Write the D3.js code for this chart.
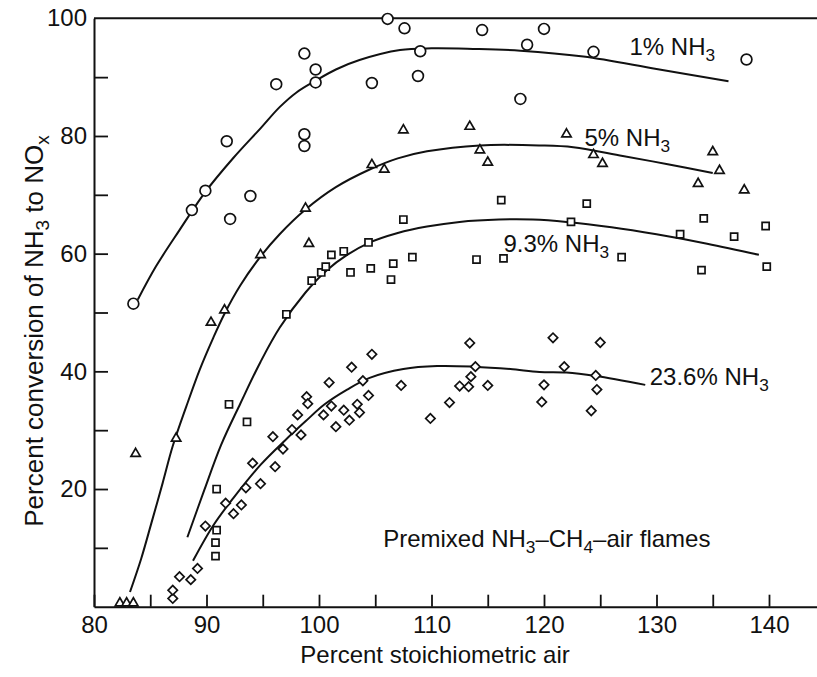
<!DOCTYPE html>
<html>
<head>
<meta charset="utf-8">
<script src="https://cdn.jsdelivr.net/npm/d3@7/dist/d3.min.js"></script>
<style>
  html, body { margin: 0; padding: 0; background: #fff; }
  svg { display: block; }
  text { font-family: "Liberation Sans", Arial, Helvetica, sans-serif; fill: #111; }
</style>
</head>
<body>
<svg id="chart" width="817" height="677"></svg>
<script>
// ---------- DATA ----------
const xMajorTicks = [80, 90, 100, 110, 120, 130, 140];
const xMinorTicks = [85, 95, 105, 115, 125, 135];
const yMajorTicks = [20, 40, 60, 80, 100];
const yMinorTicks = [10, 30, 50, 70, 90];

// 1% NH3 (circles)
const circlePts = [
  [83.5,51.5],[88.7,67.4],[89.9,70.7],[91.8,79.1],[92.1,65.9],[93.9,69.8],[96.2,88.8],
  [98.7,94.0],[98.7,80.3],[98.7,78.3],[99.7,91.3],[99.7,89.1],[104.7,89.0],[106.1,99.9],
  [107.6,98.3],[108.8,90.2],[109.0,94.4],[114.5,98.0],[117.9,86.3],[118.5,95.5],
  [120.0,98.2],[124.4,94.3],[138.0,93.0]
];
// 5% NH3 (triangles)
const trianglePts = [
  [82.3,0.6],[82.9,0.6],[83.5,0.6],[83.7,26.0],[87.3,28.6],[90.4,48.3],[91.6,50.4],
  [94.8,59.8],[98.8,67.7],[99.1,61.7],[104.7,75.1],[105.8,74.3],[107.5,81.0],[113.4,81.6],
  [114.3,77.6],[115.0,75.5],[122.0,80.3],[124.4,76.8],[125.2,75.3],[133.7,71.9],
  [135.0,77.3],[135.6,74.1],[137.8,70.8]
];
// 9.3% NH3 (squares)
const squarePts = [
  [90.8,8.6],[90.8,10.9],[90.9,13.0],[90.9,20.0],[92.0,34.4],[93.6,31.4],[97.1,49.7],
  [99.35,55.4],[100.2,56.8],[100.6,57.8],[101.1,59.8],[102.2,60.4],[102.8,56.8],
  [104.4,61.9],[104.6,57.5],[106.4,55.6],[106.6,58.3],[107.5,65.8],[108.3,59.4],
  [114.0,59.0],[116.4,59.2],[116.2,69.1],[122.4,65.4],[123.8,68.5],[126.9,59.4],
  [132.1,63.3],[134.0,57.2],[134.2,66.0],[136.9,62.9],[139.7,64.7],[139.8,57.8]
];
// 23.6% NH3 (diamonds)
const diamondPts = [
  [87.0,1.4],[87.0,2.8],[87.6,5.1],[88.6,4.6],[89.2,6.5],[89.9,13.7],[91.7,17.6],
  [92.4,15.8],[93.1,17.3],[93.5,20.2],[94.1,24.4],[94.8,20.9],[95.9,28.9],[96.1,23.8],
  [96.8,26.8],[97.6,30.1],[98.1,32.6],[98.4,29.2],[98.9,35.7],[99.0,34.5],[100.4,32.6],
  [100.9,38.1],[101.1,34.1],[101.5,30.6],[102.2,33.4],[102.7,31.7],[102.9,40.7],
  [103.4,34.4],[103.6,33.0],[103.9,38.4],[104.4,35.9],[104.7,42.9],[107.3,37.6],
  [109.9,32.0],[111.6,34.7],[112.5,37.5],[113.3,37.4],[113.5,39.1],[113.9,40.8],
  [113.4,44.8],[115.0,37.6],[119.8,34.8],[120.0,37.7],[120.8,45.7],[121.8,40.8],
  [124.2,33.3],[124.6,39.3],[124.7,36.9],[125.0,44.9]
];

// smooth fitted curves
const curve1 = [
  [83.9,52.2],[85.5,57.8],[87.6,64.0],[89.9,70.5],[92.4,76.3],[94.8,81.3],[96.5,84.9],
  [98.0,87.4],[99.7,89.4],[101.5,91.3],[103.6,92.9],[107.2,94.6],[110.0,94.9],
  [113.7,94.8],[117.9,94.5],[123.5,93.5],[130.0,91.4],[136.4,89.3]
];
const curve2 = [
  [83.2,2.5],[84.2,8.2],[85.1,14.2],[86.1,21.0],[87.0,27.3],[88.2,34.0],[89.4,40.3],
  [90.6,45.7],[91.6,49.8],[93.0,54.6],[94.8,59.5],[96.5,63.3],[98.8,67.5],[101.5,71.3],
  [104.5,74.3],[107.0,76.2],[109.6,77.4],[114.3,78.4],[119.6,78.4],[122.6,78.1],
  [127.0,76.6],[131.0,75.2],[135.0,73.7]
];
const curve3 = [
  [88.3,11.8],[89.8,19.8],[91.3,27.5],[93.0,34.5],[94.8,41.6],[96.5,47.4],[98.8,53.4],
  [100.7,57.2],[102.5,59.8],[104.4,61.8],[107.0,63.5],[109.6,64.6],[112.5,65.4],
  [116.0,65.8],[119.0,65.8],[122.0,65.4],[126.0,64.5],[130.0,63.3],[134.5,61.7],[139.1,59.8]
];
const curve4 = [
  [88.8,7.8],[90.6,13.8],[92.4,18.5],[94.8,24.1],[97.0,28.3],[98.8,31.5],[100.5,34.4],
  [102.5,36.9],[104.5,38.9],[107.5,40.4],[110.5,40.9],[113.7,40.8],[117.0,40.4],
  [119.6,39.9],[122.0,39.8],[124.6,39.2],[129.0,37.7]
];

// ---------- CHART ----------
(function () {
const svg = d3.select("#chart");
const W = 817, H = 677;
const pL = 94, pR = 817, pT = 18.3, pB = 606.7;
const x = d3.scaleLinear().domain([80, 80 + (pR - pL) / 11.25]).range([pL, pR]);
const y = d3.scaleLinear().domain([0, 100]).range([pB, pT]);

svg.append("rect").attr("width", W).attr("height", H).attr("fill", "#fff");

const FS = 24;

// Axes
const xAxis = d3.axisBottom(x).tickValues(xMajorTicks.concat(xMinorTicks))
  .tickSizeInner(-12).tickSizeOuter(0).tickPadding(9).tickFormat(d3.format("d"));
const gx = svg.append("g").attr("transform", `translate(0,${pB})`).call(xAxis);
gx.selectAll(".tick").filter(d => !xMajorTicks.includes(d)).select("text").remove();

const yAxis = d3.axisLeft(y).tickValues(yMajorTicks.concat(yMinorTicks))
  .tickSizeInner(-14).tickSizeOuter(0).tickPadding(7).tickFormat(d3.format("d"));
const gy = svg.append("g").attr("transform", `translate(${pL},0)`).call(yAxis);
gy.selectAll(".tick").filter(d => !yMajorTicks.includes(d)).select("text").remove();

[gx, gy].forEach(g => {
  g.select(".domain").attr("stroke", "#111").attr("stroke-width", 2);
  g.selectAll(".tick line").attr("stroke", "#111").attr("stroke-width", 1.8);
  g.selectAll(".tick text").attr("font-size", FS).attr("fill", "#111")
    .style("font-family", '"Liberation Sans", Arial, sans-serif');
});
gy.selectAll(".tick").filter(d => d === 100).select("line").remove();

// top border
svg.append("line").attr("x1", pL).attr("x2", pR).attr("y1", pT).attr("y2", pT)
  .attr("stroke", "#111").attr("stroke-width", 2);

// Curves
const line = d3.line().x(d => x(d[0])).y(d => y(d[1])).curve(d3.curveCatmullRom.alpha(0.5));
[curve1, curve2, curve3, curve4].forEach(c => {
  svg.append("path").attr("d", line(c)).attr("fill", "none")
    .attr("stroke", "#111").attr("stroke-width", 2);
});

// Markers
const mk = svg.append("g").attr("fill", "#fff").attr("stroke", "#111").attr("stroke-width", 1.7);
mk.selectAll(".c").data(circlePts).join("circle")
  .attr("cx", d => x(d[0])).attr("cy", d => y(d[1])).attr("r", 5.4);
const tri = d3.symbol().type(d3.symbolTriangle).size(38);
mk.selectAll(".t").data(trianglePts).join("path")
  .attr("d", tri).attr("transform", d => `translate(${x(d[0])},${y(d[1])})`);
const sq = d3.symbol().type(d3.symbolSquare).size(50);
mk.selectAll(".s").data(squarePts).join("path")
  .attr("d", sq).attr("transform", d => `translate(${x(d[0])},${y(d[1])})`);
const dm = d3.symbol().type(d3.symbolSquare).size(44);
mk.selectAll(".d").data(diamondPts).join("path")
  .attr("d", dm).attr("transform", d => `translate(${x(d[0])},${y(d[1])}) rotate(45)`);

// Labels with subscripts
function label(xv, yv, parts, fs) {
  const t = svg.append("text").attr("x", x(xv)).attr("y", y(yv)).attr("font-size", fs);
  let back = 0;
  parts.forEach(p => {
    if (p.sub) {
      t.append("tspan").attr("dy", 6).attr("font-size", fs * 0.72).text(p.sub);
      back = -6;
    } else {
      const s = t.append("tspan").text(p.t);
      if (back) { s.attr("dy", back); back = 0; }
    }
  });
  return t;
}
label(127.6, 93.7, [{t: "1% NH"}, {sub: "3"}], FS);
label(123.6, 78.3, [{t: "5% NH"}, {sub: "3"}], FS);
label(116.4, 60.3, [{t: "9.3% NH"}, {sub: "3"}], FS);
label(129.4, 37.7, [{t: "23.6% NH"}, {sub: "3"}], FS);
label(105.7, 10.1, [{t: "Premixed NH"}, {sub: "3"}, {t: "\u2013CH"}, {sub: "4"}, {t: "\u2013air flames"}], FS);

// Axis titles
svg.append("text").attr("x", 435).attr("y", 663).attr("text-anchor", "middle")
  .attr("font-size", FS).text("Percent stoichiometric air");

const yt = svg.append("text").attr("transform", "translate(43,331) rotate(-90)")
  .attr("text-anchor", "middle").attr("font-size", 26);
yt.append("tspan").text("Percent conversion of NH");
yt.append("tspan").attr("dy", 6).attr("font-size", 19).text("3");
yt.append("tspan").attr("dy", -6).text(" to NO");
yt.append("tspan").attr("dy", 6).attr("font-size", 19).text("x");
})();
</script>
</body>
</html>
